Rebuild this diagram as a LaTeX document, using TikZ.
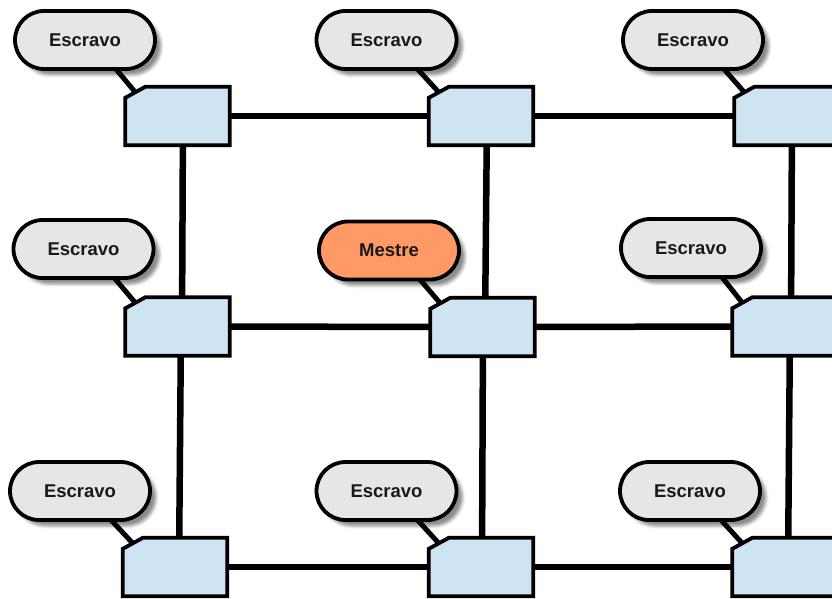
\documentclass[tikz,border=0pt]{standalone}
\usepackage{fontspec}
\setmainfont{Liberation Sans}
\usetikzlibrary{calc,backgrounds,shadows.blur}

\definecolor{cardblue}{RGB}{207,228,243}
\definecolor{pillgray}{RGB}{230,230,230}
\definecolor{mestreorange}{RGB}{255,153,102}

\tikzset{
  pill/.style={rectangle, rounded corners=29pt, minimum width=140pt,
    minimum height=58pt, draw=black, line width=3.8pt, fill=pillgray,
    font=\bfseries\fontsize{18.5}{22}\selectfont, text=black!90, inner sep=0pt,
    blur shadow={shadow xshift=6pt, shadow yshift=-6pt,
      shadow blur radius=3pt, shadow opacity=45}},
  master/.style={pill, fill=mestreorange},
  card/.style={rectangle, minimum width=104pt, minimum height=58pt, inner sep=0pt},
  cardshape/.style={draw=black, line width=3.8pt, fill=cardblue, line join=miter},
  link/.style={draw=black, line width=6.5pt},
  tether/.style={draw=black, line width=5pt},
}

\begin{document}
\begin{tikzpicture}[x=1pt, y=-1pt]
  \useasboundingbox (0,0) rectangle (832,599);

  % switch boxes (anchors only; outlines drawn below)
  \node[card] (c11) at (177.5,116) {};
  \node[card] (c12) at (481,116) {};
  \node[card] (c13) at (786.5,116) {};
  \node[card] (c21) at (177.5,326.5) {};
  \node[card] (c22) at (482.5,327) {};
  \node[card] (c23) at (784.5,326.5) {};
  \node[card] (c31) at (175,567) {};
  \node[card] (c32) at (481,567) {};
  \node[card] (c33) at (784.5,567) {};

  % chamfer midpoints where the tethers attach
  \foreach \c in {c11,c12,c13,c21,c22,c23,c31,c32,c33}
    \coordinate (\c-ch) at ($(\c.north west)+(10,5.5)$);

  % nodes
  \node[pill]   (p11) at (85,40)      {Escravo};
  \node[pill]   (p12) at (386.5,40)   {Escravo};
  \node[pill]   (p13) at (693,40)     {Escravo};
  \node[pill]   (p21) at (83.5,249)   {Escravo};
  \node[master] (p22) at (389,250.5)  {Mestre};
  \node[pill]   (p23) at (691,248)    {Escravo};
  \node[pill]   (p31) at (80,491)     {Escravo};
  \node[pill]   (p32) at (386.5,491)  {Escravo};
  \node[pill]   (p33) at (690,491)    {Escravo};

  \begin{scope}[on background layer]
    % horizontal links
    \draw[link] (c11) -- (c12);
    \draw[link] (c12) -- (c13);
    \draw[link] (c21) -- (c22);
    \draw[link] (c22) -- (c23);
    \draw[link] (c31) -- (c32);
    \draw[link] (c32) -- (c33);
    % vertical links
    \draw[link] ([xshift=5.5pt]c11.center) -- ([xshift=4.5pt]c21.center);
    \draw[link] ([xshift=3.5pt]c21.center) -- ([xshift=4pt]c31.center);
    \draw[link] ([xshift=6pt]c12.center) -- ([xshift=2.5pt]c22.center);
    \draw[link] ([xshift=0.5pt]c22.center) -- ([xshift=1pt]c32.center);
    \draw[link] ([xshift=5.5pt]c13.center) -- ([xshift=6.5pt]c23.center);
    \draw[link] ([xshift=5.5pt]c23.center) -- ([xshift=3.5pt]c33.center);
    % tethers from nodes to their boxes
    \foreach \p/\c in {p11/c11,p12/c12,p13/c13,p21/c21,p22/c22,p23/c23,p31/c31,p32/c32,p33/c33}
      \draw[tether] ([xshift=30pt,yshift=3pt]\p.south) -- (\c-ch);
  \end{scope}

  % box outlines with the cut top-left corner
  \foreach \c in {c11,c12,c13,c21,c22,c23,c31,c32,c33}
    \draw[cardshape] ($(\c.north west)+(0,11)$) -- ($(\c.north west)+(20,0)$)
      -- (\c.north east) -- (\c.south east) -- (\c.south west) -- cycle;
\end{tikzpicture}
\end{document}
